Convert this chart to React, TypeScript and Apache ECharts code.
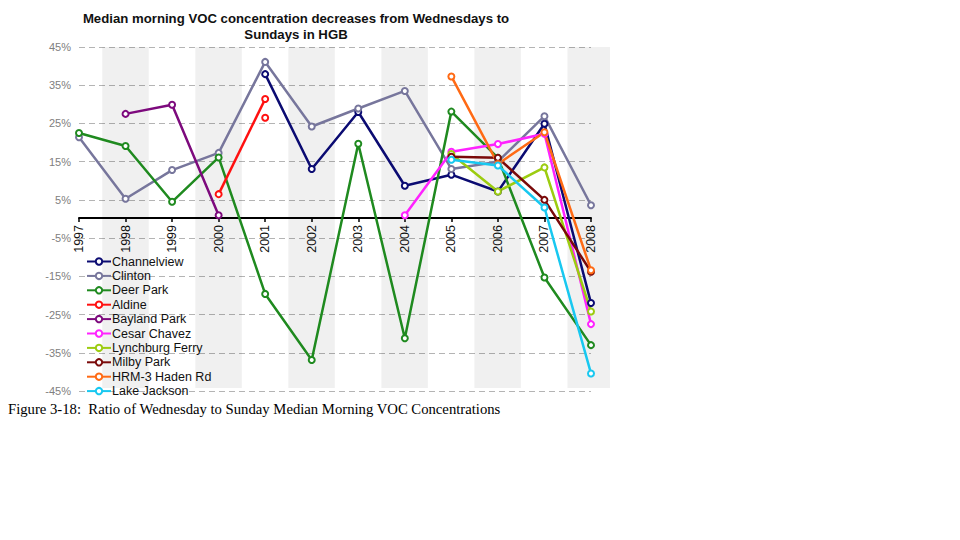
import React, { useEffect, useRef } from 'react';
import * as echarts from 'echarts';

const years = ['1997', '1998', '1999', '2000', '2001', '2002', '2003', '2004', '2005', '2006', '2007', '2008'];

const channelview = [null, null, null, null, 37.9, 13.1, 28.0, 8.7, 11.6, 7.2, 24.9, -22.0];
const clinton = [21.4, 5.3, 12.8, 17.3, 41.1, 24.2, 28.9, 33.5, 13.1, 15.0, 26.9, 3.6];
const deerPark = [22.5, 19.1, 4.5, 16.1, -19.6, -36.9, 19.7, -31.2, 28.1, 16.0, -15.3, -33.0];
const aldine = [null, null, null, 6.5, 31.4, null, null, null, null, null, null, null];
const aldineExtra = [null, null, null, null, 26.5, null, null, null, null, null, null, null];
const baylandPark = [null, 27.5, 29.9, 1.0, null, null, null, null, null, null, null, null];
const cesarChavez = [null, null, null, null, null, null, null, 1.0, 17.6, 19.6, 22.3, -27.5];
const lynchburgFerry = [null, null, null, null, null, null, null, null, 17.0, 7.2, 13.5, -24.2];
const milbyPark = [null, null, null, null, null, null, null, null, 16.3, 16.0, 5.0, -13.8];
const hrm3HadenRd = [null, null, null, null, null, null, null, null, 37.3, 14.4, 22.7, -13.4];
const lakeJackson = [null, null, null, null, null, null, null, null, 15.5, 14.0, 3.0, -40.4];

const shadedYears = [1998, 2000, 2002, 2004, 2006, 2008];

const seriesNames = [
  'Channelview', 'Clinton', 'Deer Park', 'Aldine', 'Bayland Park',
  'Cesar Chavez', 'Lynchburg Ferry', 'Milby Park', 'HRM-3 Haden Rd', 'Lake Jackson',
];
const seriesData = [
  channelview, clinton, deerPark, aldine, baylandPark,
  cesarChavez, lynchburgFerry, milbyPark, hrm3HadenRd, lakeJackson,
];
const seriesColors = [
  '#0b0b72', '#77769c', '#1f8a1f', '#ff1010', '#7d0a7d',
  '#ff22ff', '#9ccc10', '#7a0a0a', '#ff6a14', '#18c8f0',
];

const titleLines = ['Median morning VOC concentration decreases from Wednesdays to', 'Sundays in HGB'];
const caption = 'Figure 3-18:  Ratio of Wednesday to Sunday Median Morning VOC Concentrations';

const SANS = '"Liberation Sans", Arial, sans-serif';

export default function App() {
  const ref = useRef<HTMLDivElement>(null);

  useEffect(() => {
    if (!ref.current) return;
    const chart = echarts.init(ref.current, undefined, { renderer: 'svg' });

    const lineSeries: any[] = seriesNames.map((name, i) => ({
      name,
      type: 'line',
      xAxisIndex: 1,
      yAxisIndex: 1,
      data: seriesData[i],
      symbol: 'emptyCircle',
      symbolSize: 6,
      showSymbol: true,
      connectNulls: false,
      itemStyle: { color: seriesColors[i], borderWidth: 1 },
      lineStyle: { color: seriesColors[i], width: 2.5 },
    }));

    lineSeries.splice(4, 0, {
      name: 'Aldine',
      type: 'line',
      xAxisIndex: 1,
      yAxisIndex: 1,
      data: aldineExtra,
      symbol: 'emptyCircle',
      symbolSize: 6,
      showSymbol: true,
      itemStyle: { color: seriesColors[3], borderWidth: 1 },
      lineStyle: { color: seriesColors[3], width: 2.5 },
    });

    const option: any = {
      animation: false,
      backgroundColor: '#ffffff',
      textStyle: { fontFamily: SANS },
      grid: [
        // shaded bands
        { left: 79, right: 350, top: 47, bottom: 152, containLabel: false },
        // data
        { left: 79, right: 369, top: 47, bottom: 149, containLabel: false },
        // zero-line axis with year labels (bottom edge sits on 0%)
        { left: 79, right: 369, top: 47, bottom: 322, containLabel: false },
      ],
      xAxis: [
        { type: 'value', gridIndex: 0, min: 1997, max: 2008.415, show: false },
        {
          type: 'category',
          gridIndex: 1,
          data: years,
          boundaryGap: false,
          axisLine: { show: false },
          axisTick: { show: false },
          axisLabel: { show: false },
          splitLine: { show: false },
        },
        {
          type: 'category',
          gridIndex: 2,
          data: years,
          boundaryGap: false,
          position: 'bottom',
          axisLine: { show: true, onZero: false, lineStyle: { color: '#000000', width: 2 } },
          axisTick: { show: true, interval: 0, length: 4, lineStyle: { color: '#000000', width: 1.5 } },
          axisLabel: {
            interval: 0,
            rotate: 90,
            margin: 7,
            color: '#111111',
            fontSize: 12.5,
            fontFamily: SANS,
          },
          splitLine: { show: false },
        },
      ],
      yAxis: [
        { type: 'value', gridIndex: 0, min: -45, max: 45, show: false },
        {
          type: 'value',
          gridIndex: 1,
          min: -45,
          max: 45,
          interval: 5,
          axisLine: { show: false },
          axisTick: { show: false },
          axisLabel: {
            color: '#808080',
            fontSize: 11,
            fontFamily: SANS,
            margin: 8,
            formatter: (v: number) => (Math.round(v) % 10 !== 0 ? `${Math.round(v)}%` : ''),
          },
          splitLine: {
            show: true,
            lineStyle: { color: ['#b4b4b4', 'rgba(0,0,0,0)'], type: [6, 4], width: 1 },
          },
        },
        { type: 'value', gridIndex: 2, min: 0, max: 45, show: false },
      ],
      legend: {
        orient: 'vertical',
        left: 86,
        top: 255,
        itemWidth: 24,
        itemHeight: 8,
        itemGap: 1.4,
        padding: 0,
        data: seriesNames,
        textStyle: { color: '#111111', fontSize: 12.5, fontFamily: SANS, lineHeight: 12.5, padding: [0, 0, 0, -4] },
      },
      graphic: [
        {
          type: 'text',
          x: 296,
          y: 18,
          style: {
            text: titleLines[0],
            font: `bold 13.2px ${SANS}`,
            fill: '#111111',
            textAlign: 'center',
            textVerticalAlign: 'middle',
          },
        },
        {
          type: 'text',
          x: 296,
          y: 34,
          style: {
            text: titleLines[1],
            font: `bold 13.2px ${SANS}`,
            fill: '#111111',
            textAlign: 'center',
            textVerticalAlign: 'middle',
          },
        },
        {
          type: 'text',
          x: 8,
          y: 409,
          style: {
            text: caption,
            font: '14.7px "Liberation Serif", "Times New Roman", serif',
            fill: '#000000',
            textAlign: 'left',
            textVerticalAlign: 'middle',
          },
        },
      ],
      series: [
        {
          name: 'bands',
          type: 'line',
          xAxisIndex: 0,
          yAxisIndex: 0,
          data: [],
          silent: true,
          markArea: {
            silent: true,
            itemStyle: { color: 'rgba(0,0,0,0.06)' },
            data: shadedYears.map((y) => [{ xAxis: y - 0.5 }, { xAxis: y + 0.5 }]),
          },
        },
        ...lineSeries,
      ],
    };

    chart.setOption(option);
    return () => chart.dispose();
  }, []);

  return (
    <div
      ref={ref}
      style={{ position: 'absolute', left: 0, top: 0, width: 960, height: 540, background: '#fff' }}
    />
  );
}
